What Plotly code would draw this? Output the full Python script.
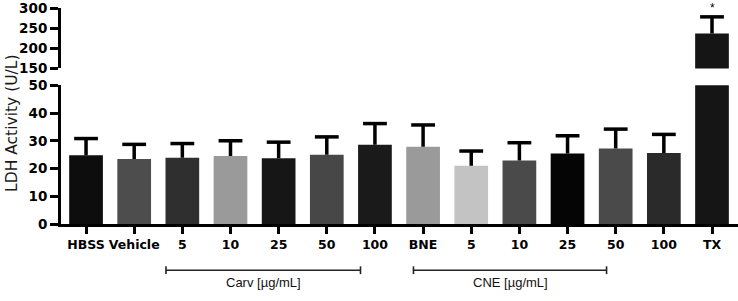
import plotly.graph_objects as go

# ---- data ----
categories = ["HBSS", "Vehicle", "5", "10", "25", "50", "100", "BNE",
              "5", "10", "25", "50", "100", "TX"]
values = [24.8, 23.4, 23.9, 24.5, 23.7, 25.0, 28.6, 27.8,
          21.0, 22.9, 25.4, 27.2, 25.6, 237]
errors = [6.0, 5.3, 5.1, 5.5, 5.8, 6.4, 7.6, 7.9,
          5.3, 6.4, 6.4, 7.0, 6.7, 41]
colors = ["#0d0d0d", "#4d4d4d", "#2f2f2f", "#9a9a9a", "#161616", "#474747",
          "#1a1a1a", "#9a9a9a", "#c3c3c3", "#4a4a4a", "#050505", "#4a4a4a",
          "#2a2a2a", "#151515"]
low_ticks = [0, 10, 20, 30, 40, 50]
high_ticks = [150, 200, 250, 300]
low_range = [0, 50]
high_range = [150, 300]
groups = [("Carv [µg/mL]", 1.66, 5.70), ("CNE [µg/mL]", 6.80, 10.81)]
signif = ["", "", "", "", "", "", "", "", "", "", "", "", "", "*"]

x = list(range(len(categories)))
wide_font = "DejaVu Sans, Verdana, sans-serif"
arial_font = "Liberation Sans, Arial, sans-serif"

fig = go.Figure()

# bars on both broken-axis segments
for xa, ya in (("x", "y"), ("x2", "y2")):
    fig.add_trace(go.Bar(x=x, y=values, marker=dict(color=colors, line=dict(width=0)),
                         width=0.70, xaxis=xa, yaxis=ya, showlegend=False,
                         hoverinfo="skip"))

# error bars (upper only), placed on the axis segment where they fall
for xa, ya, rng in (("x", "y", low_range), ("x2", "y2", high_range)):
    sx, sy, cx, cy = [], [], [], []
    for i, (v, e) in enumerate(zip(values, errors)):
        top = v + e
        if rng[0] <= top <= rng[1] or (ya == "y" and top <= rng[1]):
            sx += [i, i, None]
            sy += [v, top, None]
            cx.append(i)
            cy.append(top)
    fig.add_trace(go.Scatter(x=sx, y=sy, mode="lines", line=dict(color="black", width=3.5),
                             xaxis=xa, yaxis=ya, showlegend=False, hoverinfo="skip"))
    fig.add_trace(go.Scatter(x=cx, y=cy, mode="markers",
                             marker=dict(symbol="line-ew", size=17,
                                         line=dict(color="black", width=3.5)),
                             xaxis=xa, yaxis=ya, showlegend=False, hoverinfo="skip",
                             cliponaxis=False))

annotations = []
for i, s in enumerate(signif):
    if s:
        annotations.append(dict(x=i, y=values[i] + errors[i], xref="x2", yref="y2",
                                text=s, showarrow=False, yanchor="bottom", yshift=0,
                                font=dict(size=12, color="black", family=arial_font)))

annotations.append(dict(x=-0.0724, y=0.468, xref="paper", yref="paper",
                        text="LDH Activity (U/L)", textangle=-90, showarrow=False,
                        xanchor="center", yanchor="middle",
                        font=dict(size=15.5, color="#1a1a1a", family=wide_font)))

shapes = []
for label, x0, x1 in groups:
    shapes.append(dict(type="line", xref="x", yref="paper", x0=x0, x1=x1,
                       y0=-0.214, y1=-0.214, line=dict(color="#222", width=1.6)))
    for xx in (x0, x1):
        shapes.append(dict(type="line", xref="x", yref="paper", x0=xx, x1=xx,
                           y0=-0.196, y1=-0.232, line=dict(color="#222", width=1.6)))
    annotations.append(dict(x=(x0 + x1) / 2, y=-0.271, xref="x", yref="paper",
                            text=label, showarrow=False, xanchor="center", yanchor="middle",
                            font=dict(size=13, color="#111", family=arial_font)))

axis_common = dict(showline=True, linecolor="black", linewidth=3, ticks="outside",
                   tickcolor="black", tickwidth=2.5, showgrid=False, zeroline=False,
                   ticklabeloverflow="allow",
                   tickfont=dict(size=13.5, color="black", family=wide_font, weight="bold"))

fig.update_layout(
    width=738, height=301,
    margin=dict(l=61, r=0, t=6, b=77),
    plot_bgcolor="white", paper_bgcolor="white",
    bargap=0.3,
    xaxis=dict(domain=[0, 1], anchor="y", range=[-0.52, 13.54], tickmode="array",
               tickvals=x, ticktext=categories, ticklen=7, showline=True,
               linecolor="black", linewidth=3, ticks="outside", tickcolor="black",
               tickwidth=2.5, showgrid=False, zeroline=False, ticklabeloverflow="allow",
               tickfont=dict(size=12.5, color="black", family=wide_font, weight="bold")),
    xaxis2=dict(matches="x", anchor="y2", visible=False, domain=[0, 1]),
    yaxis=dict(domain=[0, 0.6422], range=low_range, tickmode="array", tickvals=low_ticks,
               ticklen=8, anchor="x", **axis_common),
    yaxis2=dict(domain=[0.7202, 1], range=high_range, tickmode="array",
                tickvals=high_ticks, ticklen=8, anchor="x2", **axis_common),
    annotations=annotations,
    shapes=shapes,
)

fig.write_html("out.html")
